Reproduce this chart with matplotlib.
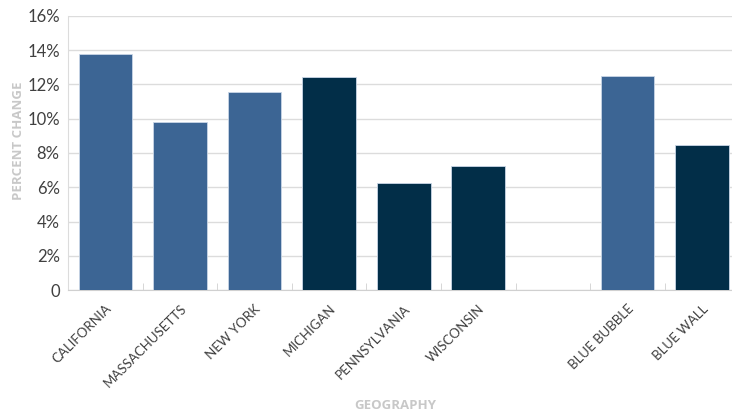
import matplotlib.pyplot as plt
import numpy as np
from matplotlib.ticker import FuncFormatter, FixedLocator

# data
geos = ['CALIFORNIA', 'MASSACHUSETTS', 'NEW YORK', 'MICHIGAN', 'PENNSYLVANIA',
        'WISCONSIN', '', 'BLUE BUBBLE', 'BLUE WALL']
pct = [13.75, 9.78, 11.55, 12.45, 6.27, 7.25, np.nan, 12.5, 8.45]
group = ['bubble', 'bubble', 'bubble', 'wall', 'wall', 'wall', '', 'bubble', 'wall']

colors = {'bubble': '#3C6594', 'wall': '#022E48', '': 'none'}

plt.rcParams['font.family'] = ['Lato', 'DejaVu Sans']

fig = plt.figure(figsize=(7.32, 4.15), dpi=100)
ax = fig.add_axes([0.093, 0.301, 0.917, 0.661])

x = np.arange(len(geos))
ax.bar(x, pct, width=0.72, color=[colors[g] for g in group],
       edgecolor='#C9D6E6', linewidth=0.6, zorder=3)

ax.set_xlim(-0.5, len(geos) - 0.5)
ax.set_ylim(0, 16)
ax.set_yticks(np.arange(0, 17, 2))
ax.yaxis.set_major_formatter(FuncFormatter(lambda v, p: '0' if v == 0 else '%d%%' % v))
ax.grid(axis='y', color='#DCDCDC', linewidth=1, zorder=0)
ax.tick_params(axis='y', length=0, labelsize=12, labelcolor='#404040', pad=6)

ax.set_xticks(x)
ax.set_xticklabels(geos, rotation=45, ha='right', rotation_mode='anchor',
                   fontsize=9.5, color='#404040')
ax.tick_params(axis='x', which='major', length=0, pad=9)
ax.xaxis.set_minor_locator(FixedLocator(np.arange(-0.5, len(geos), 1)))
ax.tick_params(axis='x', which='minor', direction='in', length=5, color='#D0D0D0')

for s in ['top', 'right']:
    ax.spines[s].set_visible(False)
ax.spines['left'].set_color('#DCDCDC')
ax.spines['bottom'].set_color('#D0D0D0')

fig.text(0.025, 0.66, 'PERCENT CHANGE', rotation=90, ha='center', va='center',
         fontsize=9.5, fontweight='bold', color='#C8C8C8', family='Open Sans')
fig.text(0.54, 0.022, 'GEOGRAPHY', ha='center', va='center',
         fontsize=9.5, fontweight='bold', color='#C8C8C8', family='Open Sans')

fig.savefig('out.png', dpi=100)
